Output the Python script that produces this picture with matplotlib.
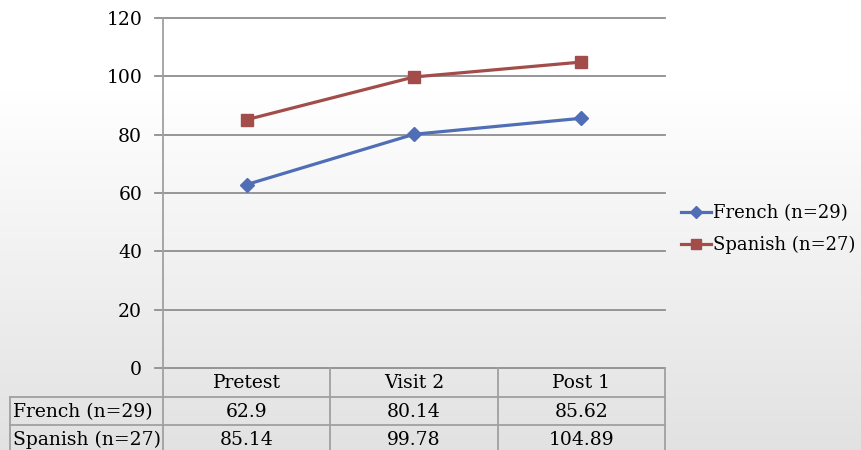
import numpy as np
import matplotlib
matplotlib.use("Agg")
import matplotlib.pyplot as plt
from matplotlib.lines import Line2D

plt.rcParams['font.family'] = ['DejaVu Serif', 'Liberation Serif']

categories = ["Pretest", "Visit 2", "Post 1"]
series_names = ["French (n=29)", "Spanish (n=27)"]
french = [62.9, 80.14, 85.62]
spanish = [85.14, 99.78, 104.89]
french_labels = ["62.9", "80.14", "85.62"]
spanish_labels = ["85.14", "99.78", "104.89"]
yticks = [0, 20, 40, 60, 80, 100, 120]

W, H = 861, 450
fig = plt.figure(figsize=(W / 100, H / 100), dpi=100)

# gradient background
bg = fig.add_axes([0, 0, 1, 1], zorder=-10)
ys = np.arange(H)
t = np.clip((ys - 90) / (H - 90), 0, 1)
vals = 1.0 - t * (1.0 - 0.885)
img = np.dstack([vals, vals, vals]).reshape(H, 1, 3)
bg.imshow(img, aspect='auto', extent=[0, 1, 0, 1], origin='upper')
bg.axis('off')

def fx(px):
    return px / W

def fy(py):
    return 1 - py / H

L, R, T, B = 163, 665, 18, 368
ax = fig.add_axes([fx(L), fy(B), fx(R) - fx(L), fy(T) - fy(B)])
ax.set_facecolor('none')
ax.set_xlim(0, 3)
ax.set_ylim(0, 120)
x = np.arange(len(categories)) + 0.5

grid_c = '#8e8e8e'
for v in yticks:
    ax.plot([-8 / ((R - L) / 3), 3], [v, v], color=grid_c, lw=1.3, clip_on=False, zorder=1)

blue = '#4F6EB5'
red = '#A34D4A'
ax.plot(x, french, color=blue, lw=2.3, marker='D', ms=7.5, mec=blue, mfc=blue, zorder=3)
ax.plot(x, spanish, color=red, lw=2.3, marker='s', ms=8.5, mec=red, mfc=red, zorder=3)

for s in ax.spines.values():
    s.set_visible(False)
ax.set_xticks([])
ax.set_yticks(yticks)
fs = 13.5
ax.set_yticklabels([str(v) for v in yticks], fontsize=fs)
ax.tick_params(axis='y', length=0, pad=15)

line_c = '#a0a0a0'
def hline(y, x0, x1, c=line_c):
    fig.add_artist(Line2D([fx(x0), fx(x1)], [fy(y), fy(y)], color=c, lw=1.3))
def vline(xp, y0, y1, c=line_c):
    fig.add_artist(Line2D([fx(xp), fx(xp)], [fy(y0), fy(y1)], color=c, lw=1.3))

vline(L, T, H + 5)
rows = [368, 397, 425, 453]
colw = (R - L) / 3
cols = [L + i * colw for i in range(4)]
hline(397, 10, R)
hline(425, 10, R)
vline(10, 397, H + 5)
for c in cols[1:]:
    vline(c, 368, H + 5)

for i, cat in enumerate(categories):
    cx = L + (i + 0.5) * colw
    fig.text(fx(cx), fy((rows[0] + rows[1]) / 2 + 1), cat, ha='center', va='center', fontsize=fs)
    fig.text(fx(cx), fy((rows[1] + rows[2]) / 2 + 1), french_labels[i], ha='center', va='center', fontsize=fs)
    fig.text(fx(cx), fy((rows[2] + rows[3]) / 2 + 1), spanish_labels[i], ha='center', va='center', fontsize=fs)
fig.text(fx(13), fy((rows[1] + rows[2]) / 2 + 1), series_names[0], ha='left', va='center', fontsize=fs)
fig.text(fx(13), fy((rows[2] + rows[3]) / 2 + 1), series_names[1], ha='left', va='center', fontsize=fs)

handles = [
    Line2D([], [], color=blue, lw=2.3, marker='D', ms=6.5, mec=blue, mfc=blue),
    Line2D([], [], color=red, lw=2.3, marker='s', ms=7.5, mec=red, mfc=red),
]
fig.legend(handles, series_names, loc='center left', bbox_to_anchor=(fx(681), fy(229)),
           frameon=False, fontsize=13, handlelength=1.65, handletextpad=0.1,
           labelspacing=0.75, borderpad=0, borderaxespad=0)

fig.savefig('out.png', dpi=100)
